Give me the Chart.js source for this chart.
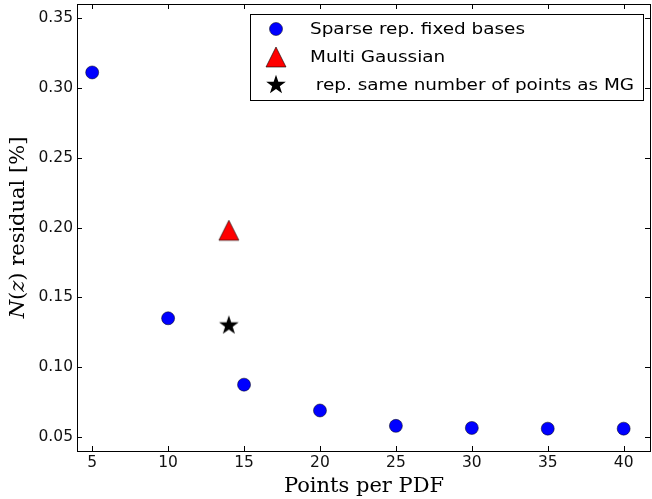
<!DOCTYPE html>
<html>
<head>
<meta charset="utf-8">
<script src="https://cdn.jsdelivr.net/npm/chart.js@4"></script>
<style>
  html, body { margin: 0; padding: 0; background: #fff; }
  #wrap { width: 652px; height: 499px; position: relative; }
</style>
</head>
<body>
<div id="wrap"><canvas id="resChart"></canvas></div>
<script>
// data
const pointsPerPdf = [5, 10, 15, 20, 25, 30, 35, 40];
const sparseResidual = [0.311, 0.135, 0.0875, 0.069, 0.058, 0.0565, 0.056, 0.056];
const mgPoints = [14];
const mgResidual = [0.198];
const samePoints = [14];
const sameResidual = [0.1298];

const xTicks = [5, 10, 15, 20, 25, 30, 35, 40];
const yTicks = [0.05, 0.10, 0.15, 0.20, 0.25, 0.30, 0.35];

const legendLabels = ["Sparse rep. fixed bases", "Multi Gaussian", " rep. same number of points as MG"];

// marker images (matplotlib style '^' and '*')
function makeStar(size, outer, inner) {
  const c = document.createElement("canvas");
  c.width = size; c.height = size;
  const g = c.getContext("2d");
  const cx = size / 2, cy = size / 2;
  g.beginPath();
  for (let i = 0; i < 10; i++) {
    const r = i % 2 === 0 ? outer : inner;
    const a = -Math.PI / 2 + i * Math.PI / 5;
    const px = cx + r * Math.cos(a), py = cy + r * Math.sin(a);
    if (i === 0) g.moveTo(px, py); else g.lineTo(px, py);
  }
  g.closePath();
  g.fillStyle = "#000";
  g.fill();
  return c;
}

function makeTriangle(size, half) {
  const c = document.createElement("canvas");
  c.width = size; c.height = size;
  const g = c.getContext("2d");
  const cx = size / 2, cy = size / 2;
  g.beginPath();
  g.moveTo(cx, cy - half);
  g.lineTo(cx + half, cy + half);
  g.lineTo(cx - half, cy + half);
  g.closePath();
  g.fillStyle = "#ff0000";
  g.fill();
  g.strokeStyle = "#000";
  g.lineWidth = 0.6;
  g.stroke();
  return c;
}

const starImg = makeStar(24, 10.3, 4.0);
const triImg = makeTriangle(24, 10);

function toPts(xs, ys) {
  return xs.map((x, i) => ({ x: x, y: ys[i] }));
}

const datasets = [
  {
    label: legendLabels[0],
    data: toPts(pointsPerPdf, sparseResidual),
    pointStyle: "circle",
    pointRadius: 6.5,
    backgroundColor: "#0000ff",
    borderColor: "#000",
    borderWidth: 0.5
  },
  {
    label: legendLabels[1],
    data: toPts(mgPoints, mgResidual),
    pointStyle: triImg,
    pointRadius: 10
  },
  {
    label: legendLabels[2],
    data: toPts(samePoints, sameResidual),
    pointStyle: starImg,
    pointRadius: 10
  }
];

const tickFont = "15.5px 'DejaVu Sans'";

// box, inward ticks + labels, y title with italics, legend box
const mplLook = {
  id: "mplLook",
  afterDatasetsDraw(chart) {
    const ctx = chart.ctx;
    const a = chart.chartArea;
    const xs = chart.scales.x, ys = chart.scales.y;
    ctx.save();
    ctx.strokeStyle = "#000";
    ctx.lineWidth = 1;
    ctx.strokeRect(Math.round(a.left) + 0.5, Math.round(a.top) + 0.5,
      Math.round(a.right - a.left) - 1, Math.round(a.bottom - a.top));

    const tl = 5;
    ctx.beginPath();
    xTicks.forEach(v => {
      const px = Math.round(xs.getPixelForValue(v)) + 0.5;
      ctx.moveTo(px, a.bottom); ctx.lineTo(px, a.bottom - tl);
      ctx.moveTo(px, a.top); ctx.lineTo(px, a.top + tl);
    });
    yTicks.forEach(v => {
      const py = Math.round(ys.getPixelForValue(v)) + 0.5;
      ctx.moveTo(a.left, py); ctx.lineTo(a.left + tl, py);
      ctx.moveTo(a.right - 1, py); ctx.lineTo(a.right - 1 - tl, py);
    });
    ctx.stroke();

    // tick labels
    ctx.fillStyle = "#111";
    ctx.font = tickFont;
    ctx.textBaseline = "middle";
    ctx.textAlign = "center";
    xTicks.forEach(v => {
      ctx.fillText(String(v), xs.getPixelForValue(v), a.bottom + 12);
    });
    ctx.textAlign = "right";
    yTicks.forEach(v => {
      ctx.fillText(v.toFixed(2), a.left - 4, ys.getPixelForValue(v));
    });

    // y title: N(z) residual [%]
    ctx.fillStyle = "#000";
    const parts = [
      { t: "N", f: "italic 21px 'DejaVu Serif'" },
      { t: "(", f: "21px 'DejaVu Serif'" },
      { t: "z", f: "italic 21px 'DejaVu Serif'" },
      { t: ") residual [%]", f: "21px 'DejaVu Serif'" }
    ];
    let total = 0;
    parts.forEach(p => { ctx.font = p.f; p.w = ctx.measureText(p.t).width; total += p.w; });
    ctx.translate(19, (a.top + a.bottom) / 2);
    ctx.rotate(-Math.PI / 2);
    ctx.textAlign = "left";
    let cx = -total / 2;
    parts.forEach(p => { ctx.font = p.f; ctx.fillText(p.t, cx, 0); cx += p.w; });
    ctx.setTransform(1, 0, 0, 1, 0, 0);

    // legend
    const bx = 250, by = 14, bw = 393, bh = 86;
    ctx.fillStyle = "#fff";
    ctx.fillRect(bx, by, bw, bh);
    ctx.strokeRect(bx + 0.5, by + 0.5, bw, bh);
    ctx.textBaseline = "middle";
    ctx.textAlign = "left";
    datasets.forEach((ds, i) => {
      const ry = by + 15 + i * 28;
      if (typeof ds.pointStyle !== "string") {
        ctx.drawImage(ds.pointStyle, 276 - ds.pointStyle.width / 2, ry - ds.pointStyle.height / 2);
      } else {
        ctx.fillStyle = ds.backgroundColor;
        ctx.strokeStyle = ds.borderColor;
        ctx.lineWidth = ds.borderWidth;
        ctx.beginPath();
        ctx.arc(276, ry, ds.pointRadius, 0, Math.PI * 2);
        ctx.fill();
        ctx.stroke();
      }
      // legend text is a bit wide in the original
      ctx.save();
      ctx.translate(310, ry + 1);
      ctx.scale(1.15, 1);
      ctx.font = "16px 'DejaVu Sans'";
      ctx.fillStyle = "#000";
      ctx.fillText(ds.label, 0, 0);
      ctx.restore();
    });
    ctx.restore();
  }
};

new Chart(document.getElementById("resChart"), {
  type: "scatter",
  data: { datasets: datasets },
  plugins: [mplLook],
  options: {
    responsive: true,
    maintainAspectRatio: false,
    animation: false,
    layout: { autoPadding: false, padding: { top: 4, right: 1, left: 0, bottom: 0 } },
    plugins: { legend: { display: false }, tooltip: { enabled: false } },
    scales: {
      x: {
        type: "linear",
        min: 4,
        max: 41.8,
        afterBuildTicks: s => { s.ticks = xTicks.map(v => ({ value: v })); },
        afterFit: s => { s.height = 48; },
        grid: { display: false, drawTicks: false },
        border: { display: false },
        ticks: { display: false },
        title: {
          display: true,
          text: "Points per PDF",
          color: "#000",
          padding: { top: 0, bottom: 0 },
          font: { family: "DejaVu Serif", size: 21 }
        }
      },
      y: {
        type: "linear",
        min: 0.04,
        max: 0.36,
        afterBuildTicks: s => { s.ticks = yTicks.map(v => ({ value: v })); },
        afterFit: s => { s.width = 77; },
        grid: { display: false, drawTicks: false },
        border: { display: false },
        ticks: { display: false }
      }
    }
  }
});
</script>
</body>
</html>
